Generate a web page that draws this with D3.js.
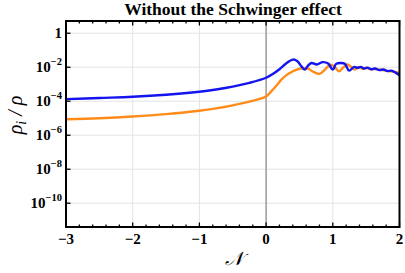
<!DOCTYPE html>
<html><head><meta charset="utf-8">
<script src="https://cdn.jsdelivr.net/npm/d3@7"></script>
<style>body{margin:0;background:#fff}svg{display:block}</style>
</head><body><svg id="c" width="405" height="273"></svg>
<script>
const title = "Without the Schwinger effect";
const xTicks = [-3, -2, -1, 0, 1, 2];
const yTickExps = [0, -2, -4, -6, -8, -10];
const blueN = [-3,-2.5,-2,-1.5,-1,-0.75,-0.5,-0.25,0,0.1,0.2,0.3,0.4,0.47,0.53,0.58,0.63,0.68,0.76,0.85,0.93,1.0,1.05,1.12,1.18,1.245,1.32,1.37,1.42,1.47,1.52,1.58,1.63,1.7,1.76,1.82,1.88,1.94,2.0];
const blueV = [1.32e-4,1.55e-4,1.82e-4,2.4e-4,3.63e-4,4.9e-4,7.2e-4,1.2e-3,2.4e-3,4.0e-3,7.6e-3,1.66e-2,2.82e-2,2.24e-2,1.12e-2,7.2e-3,1.26e-2,1.78e-2,1.45e-2,2.0e-2,1.66e-2,7.2e-3,1.58e-2,1.78e-2,1.58e-2,6.3e-3,1.05e-2,9.3e-3,1.05e-2,8.5e-3,9.5e-3,7.6e-3,8.5e-3,6.8e-3,7.4e-3,5.9e-3,6.3e-3,4.8e-3,3.4e-3];
const orangeN = [-3,-2.5,-2,-1.5,-1,-0.75,-0.5,-0.25,0,0.08,0.15,0.23,0.3,0.38,0.45,0.55,0.63,0.7,0.8,0.88,0.96,1.02,1.095,1.16,1.22,1.28,1.33,1.39,1.45,1.5,1.56,1.62,1.7,1.8,1.9,2.0];
const orangeV = [8.7e-6,1.0e-5,1.26e-5,1.74e-5,2.75e-5,3.8e-5,5.75e-5,9.5e-5,1.9e-4,3.9e-4,7.9e-4,1.86e-3,3.3e-3,5.2e-3,7.1e-3,8.7e-3,8.3e-3,5.6e-3,4.1e-3,7.1e-3,1.41e-2,1.12e-2,5.75e-3,1.0e-2,1.45e-2,1.0e-2,7.2e-3,1.0e-2,7.9e-3,9.3e-3,7.6e-3,7.9e-3,7.2e-3,6.3e-3,5.5e-3,4.7e-3];

const svg = d3.select("#c");
const L = 66, R = 399.5, T = 21, B = 227;
const x = d3.scaleLinear().domain([-3, 2]).range([L, R]);
const y = d3.scaleLog().domain([Math.pow(10,-11.4), Math.pow(10,0.72)]).range([B, T]);

// grid
const g = svg.append("g");
g.selectAll(".gx").data(xTicks).enter().append("line")
  .attr("x1", d => x(d)).attr("x2", d => x(d)).attr("y1", T).attr("y2", B)
  .attr("stroke", "#e4e4e4").attr("stroke-width", 1);
g.selectAll(".gy").data(yTickExps).enter().append("line")
  .attr("x1", L).attr("x2", R).attr("y1", d => y(Math.pow(10,d))).attr("y2", d => y(Math.pow(10,d)))
  .attr("stroke", "#e4e4e4").attr("stroke-width", 1);
g.append("line").attr("x1", x(0)).attr("x2", x(0)).attr("y1", T).attr("y2", B)
  .attr("stroke", "#888").attr("stroke-width", 1.2);

svg.append("clipPath").attr("id","cp").append("rect")
  .attr("x", L).attr("y", T).attr("width", R-L).attr("height", B-T);

const line = d3.line().curve(d3.curveCatmullRom.alpha(0.5))
  .x(d => x(d[0])).y(d => y(d[1]));
const plot = svg.append("g").attr("clip-path", "url(#cp)");
plot.append("path").datum(orangeN.map((n,i)=>[n, orangeV[i]]))
  .attr("d", line).attr("fill","none").attr("stroke","#ff8c1a").attr("stroke-width",2.4);
plot.append("path").datum(blueN.map((n,i)=>[n, blueV[i]]))
  .attr("d", line).attr("fill","none").attr("stroke","#1414f0").attr("stroke-width",2.4);

const minorX = d3.range(-3, 2.0001, 0.2).map(v => +v.toFixed(2));
const ax = svg.append("g");
ax.selectAll(".tb").data(minorX).enter().append("line")
  .attr("x1", d => x(d)).attr("x2", d => x(d))
  .attr("y1", B).attr("y2", d => B - (Number.isInteger(d) ? 4.5 : 2.5))
  .attr("stroke", "#000").attr("stroke-width", 1.3);
ax.selectAll(".tt").data(minorX).enter().append("line")
  .attr("x1", d => x(d)).attr("x2", d => x(d))
  .attr("y1", T).attr("y2", d => T + (Number.isInteger(d) ? 4.5 : 2.5))
  .attr("stroke", "#000").attr("stroke-width", 1.3);
ax.selectAll(".tl").data(yTickExps).enter().append("line")
  .attr("x1", L).attr("x2", L + 4.5)
  .attr("y1", d => y(Math.pow(10,d))).attr("y2", d => y(Math.pow(10,d)))
  .attr("stroke", "#000").attr("stroke-width", 1.3);

svg.append("rect").attr("x", L).attr("y", T).attr("width", R-L).attr("height", B-T)
  .attr("fill","none").attr("stroke","#000").attr("stroke-width",2);

const serif = "'Liberation Serif','Times New Roman',serif";
svg.selectAll(".xl").data(xTicks).enter().append("text")
  .attr("x", d => x(d)).attr("y", 244).attr("text-anchor","middle")
  .attr("font-family", serif).attr("font-weight","bold").attr("font-size",15)
  .text(d => d < 0 ? "\u2212" + Math.abs(d) : String(d));
yTickExps.forEach(e => {
  const t = svg.append("text").attr("x", L - 4).attr("y", y(Math.pow(10,e)) + 5)
    .attr("text-anchor","end").attr("font-family", serif).attr("font-weight","bold").attr("font-size",15);
  if (e === 0) { t.text("1"); }
  else {
    t.append("tspan").text("10");
    t.append("tspan").attr("dy",-7).attr("font-size",10.5).text("\u2212" + Math.abs(e));
  }
});
svg.append("text").attr("x", 233).attr("y", 15).attr("text-anchor","middle")
  .attr("font-family", serif).attr("font-weight","bold").attr("font-size",17.5).text(title);
const yl = svg.append("text").attr("transform","translate(22,115) rotate(-90)")
  .attr("text-anchor","middle").attr("font-family", serif).attr("font-style","italic").attr("font-size",20);
yl.append("tspan").text("\u03C1");
yl.append("tspan").attr("dy",4).attr("font-size",14).text("i");
yl.append("tspan").attr("dy",-4).text(" / \u03C1");
svg.append("text").attr("x", 234).attr("y", 265).attr("text-anchor","middle")
  .attr("font-family", serif).attr("font-style","italic").attr("font-size",19).text("\uD835\uDCA9");
</script></body></html>
